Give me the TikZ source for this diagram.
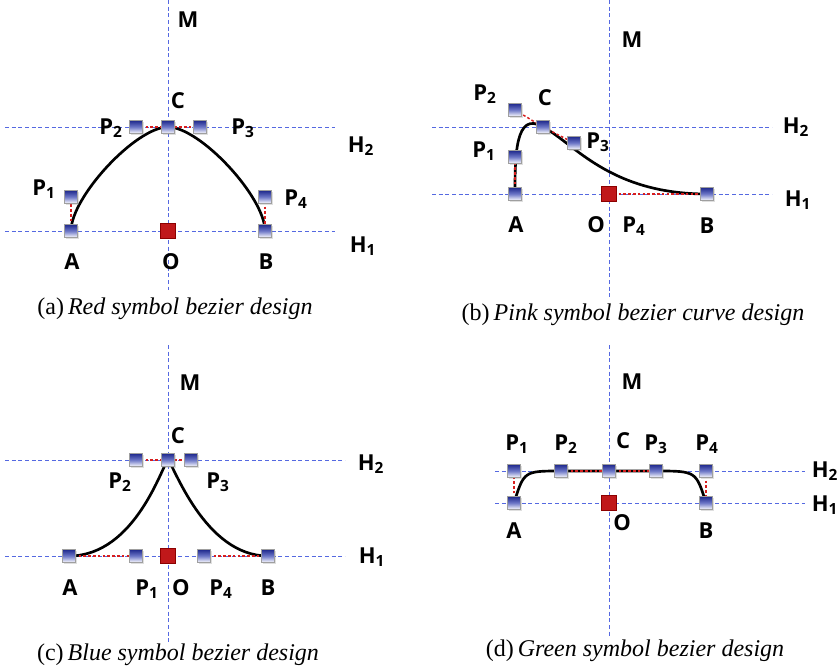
\documentclass[tikz,border=0pt]{standalone}
\usepackage{fontspec}
\setmainfont{Liberation Serif}
\newfontfamily\lblfont{Open Sans}
\usetikzlibrary{backgrounds,shadows}
\definecolor{guide}{RGB}{85,105,225}
\definecolor{sqtop}{RGB}{30,40,140}
\definecolor{sqmid}{RGB}{110,120,200}
\definecolor{redsq}{RGB}{192,24,26}
\definecolor{reddash}{RGB}{215,30,30}
\tikzset{
  guideline/.style={draw=guide, line width=0.6pt, dash pattern=on 3pt off 2pt},
  handle/.style={draw=reddash, line width=1.1pt, dash pattern=on 2pt off 1.6pt},
  curveline/.style={draw=black, line width=2pt},
  sq/.style={draw=gray!75, line width=0.5pt, top color=sqtop, bottom color=white, middle color=sqmid,
    minimum size=9.8pt, inner sep=0pt, drop shadow={opacity=0.25, shadow xshift=0.8pt, shadow yshift=-0.8pt}},
  osq/.style={draw=red!55!black, line width=0.4pt, fill=redsq, minimum size=11pt, inner sep=0pt},
  lbl/.style={font=\lblfont\bfseries\fontsize{16.5}{18}\selectfont, inner sep=0pt},
  captxt/.style={font=\fontsize{18}{20}\selectfont, inner sep=0pt}
}
\newcommand{\sbs}[1]{\textsubscript{#1}}
\begin{document}
\begin{tikzpicture}[x=0.75pt, y=-0.75pt]
\useasboundingbox (0,0) rectangle (838,670);

% ===================== (a) =====================
\node[sq]  (aA)  at (71,231) {};
\node[sq]  (aP1) at (71,197) {};
\node[sq]  (aP2) at (136,127) {};
\node[sq]  (aC)  at (168,127) {};
\node[sq]  (aP3) at (200,127) {};
\node[sq]  (aP4) at (265,197) {};
\node[sq]  (aB)  at (265,231) {};
\node[osq] (aO)  at (168,231) {};
\coordinate (aV1) at (168,0);   \coordinate (aV2) at (168,290);
\coordinate (aH2l) at (5,127);  \coordinate (aH2r) at (335,127);
\coordinate (aH1l) at (5,231);  \coordinate (aH1r) at (335,231);
\begin{scope}[on background layer]
  \draw[guideline] (aV1) -- (aV2);
  \draw[guideline] (aH2l) -- (aH2r);
  \draw[guideline] (aH1l) -- (aH1r);
  \draw[curveline] (aA.center) .. controls (aP1.center) and (aP2.center) .. (aC.center)
                   .. controls (aP3.center) and (aP4.center) .. (aB.center);
  \draw[handle] (aA.center) -- (aP1.center);
  \draw[handle] (aP2.center) -- (aC.center) -- (aP3.center);
  \draw[handle] (aP4.center) -- (aB.center);
\end{scope}
\node[lbl] (aLM)  at (188,20)  {M};
\node[lbl] (aLC)  at (178,101) {C};
\node[lbl] (aLP2) at (111,128) {P\sbs{2}};
\node[lbl] (aLP3) at (243,128) {P\sbs{3}};
\node[lbl] (aLH2) at (361,146) {H\sbs{2}};
\node[lbl] (aLP1) at (44,189)  {P\sbs{1}};
\node[lbl] (aLP4) at (296,199) {P\sbs{4}};
\node[lbl] (aLH1) at (363,246) {H\sbs{1}};
\node[lbl] (aLA)  at (72,262)  {A};
\node[lbl] (aLO)  at (171,262) {O};
\node[lbl] (aLB)  at (266,262) {B};
\node[captxt] (aCap) at (175,309) {(a)\,\textit{Red symbol bezier design}};

% ===================== (b) =====================
\node[sq]  (bA)  at (515,194) {};
\node[sq]  (bP1) at (515,157) {};
\node[sq]  (bP2) at (515,110) {};
\node[sq]  (bC)  at (543,127) {};
\node[sq]  (bP3) at (574,143) {};
\node[osq] (bO)  at (609,194) {};
\node[sq]  (bB)  at (707,194) {};
\coordinate (bV1) at (609,0);   \coordinate (bV2) at (609,298);
\coordinate (bH2l) at (432,127); \coordinate (bH2r) at (772,127);
\coordinate (bH1l) at (432,194); \coordinate (bH1r) at (772,194);
\begin{scope}[on background layer]
  \draw[guideline] (bV1) -- (bV2);
  \draw[guideline] (bH2l) -- (bH2r);
  \draw[guideline] (bH1l) -- (bH1r);
  \draw[curveline] (bA.center) .. controls (bP1.center) and (bP2.center) .. (bC.center)
                   .. controls (bP3.center) and (bO.center) .. (bB.center);
  \draw[handle] (bA.center) -- (bP1.center);
  \draw[handle] (bP2.center) -- (bC.center) -- (bP3.center);
  \draw[handle] (bO.center) -- (bB.center);
\end{scope}
\node[lbl] (bLM)  at (632,40)  {M};
\node[lbl] (bLP2) at (485,94)  {P\sbs{2}};
\node[lbl] (bLC)  at (545,98)  {C};
\node[lbl] (bLP1) at (484,151) {P\sbs{1}};
\node[lbl] (bLP3) at (598,142) {P\sbs{3}};
\node[lbl] (bLH2) at (796,127) {H\sbs{2}};
\node[lbl] (bLH1) at (798,200) {H\sbs{1}};
\node[lbl] (bLA)  at (516,225) {A};
\node[lbl] (bLO)  at (596,225) {O};
\node[lbl] (bLP4) at (634,226) {P\sbs{4}};
\node[lbl] (bLB)  at (707,226) {B};
\node[captxt] (bCap) at (633,315) {(b)\,\textit{Pink symbol bezier curve design}};

% ===================== (c) =====================
\node[sq]  (cP2) at (136,460) {};
\node[sq]  (cC)  at (168,460) {};
\node[sq]  (cP3) at (191,460) {};
\node[sq]  (cA)  at (69,556) {};
\node[sq]  (cP1) at (136,556) {};
\node[osq] (cO)  at (168,556) {};
\node[sq]  (cP4) at (204,556) {};
\node[sq]  (cB)  at (268,556) {};
\coordinate (cV1) at (168,345);  \coordinate (cV2) at (168,642);
\coordinate (cH2l) at (5,460);  \coordinate (cH2r) at (345,460);
\coordinate (cH1l) at (5,556);  \coordinate (cH1r) at (345,556);
\coordinate (cK1) at (163,463); \coordinate (cK2) at (173,463);
\begin{scope}[on background layer]
  \draw[guideline] (cV1) -- (cV2);
  \draw[guideline] (cH2l) -- (cH2r);
  \draw[guideline] (cH1l) -- (cH1r);
  \draw[curveline] (cA.center) .. controls (cP1.center) and (cK1) .. (cC.center)
                   .. controls (cK2) and (cP4.center) .. (cB.center);
  \draw[handle] (cA.center) -- (cP1.center);
  \draw[handle] (cP2.center) -- (cC.center) -- (cP3.center);
  \draw[handle] (cP4.center) -- (cB.center);
\end{scope}
\node[lbl] (cLM)  at (190,383) {M};
\node[lbl] (cLC)  at (178,436) {C};
\node[lbl] (cLP2) at (120,482) {P\sbs{2}};
\node[lbl] (cLP3) at (218,482) {P\sbs{3}};
\node[lbl] (cLH2) at (371,464) {H\sbs{2}};
\node[lbl] (cLH1) at (372,557) {H\sbs{1}};
\node[lbl] (cLA)  at (70,588)  {A};
\node[lbl] (cLP1) at (147,589) {P\sbs{1}};
\node[lbl] (cLO)  at (181,588) {O};
\node[lbl] (cLP4) at (221,589) {P\sbs{4}};
\node[lbl] (cLB)  at (268,588) {B};
\node[captxt] (cCap) at (178,655) {(c)\,\textit{Blue symbol bezier design}};

% ===================== (d) =====================
\node[sq]  (dP1) at (514,471) {};
\node[sq]  (dP2) at (561,471) {};
\node[sq]  (dC)  at (609,471) {};
\node[sq]  (dP3) at (656,471) {};
\node[sq]  (dP4) at (706,471) {};
\node[sq]  (dA)  at (514,503) {};
\node[osq] (dO)  at (609,503) {};
\node[sq]  (dB)  at (706,503) {};
\coordinate (dV1) at (609,345);  \coordinate (dV2) at (609,636);
\coordinate (dH2l) at (495,471); \coordinate (dH2r) at (805,471);
\coordinate (dH1l) at (495,503); \coordinate (dH1r) at (805,503);
\coordinate (dK1) at (524,471); \coordinate (dK2) at (696,471);
\begin{scope}[on background layer]
  \draw[guideline] (dV1) -- (dV2);
  \draw[guideline] (dH2l) -- (dH2r);
  \draw[guideline] (dH1l) -- (dH1r);
  \draw[curveline] (dA.center) .. controls (dK1) .. (dP2.center)
                   -- (dP3.center) .. controls (dK2) .. (dB.center);
  \draw[handle] (dA.center) -- (dP1.center);
  \draw[handle] (dP2.center) -- (dC.center) -- (dP3.center);
  \draw[handle] (dP4.center) -- (dB.center);
\end{scope}
\node[lbl] (dLM)  at (632,382) {M};
\node[lbl] (dLP1) at (517,444) {P\sbs{1}};
\node[lbl] (dLP2) at (566,444) {P\sbs{2}};
\node[lbl] (dLC)  at (623,441) {C};
\node[lbl] (dLP3) at (656,444) {P\sbs{3}};
\node[lbl] (dLP4) at (707,444) {P\sbs{4}};
\node[lbl] (dLH2) at (825,471) {H\sbs{2}};
\node[lbl] (dLH1) at (825,505) {H\sbs{1}};
\node[lbl] (dLA)  at (514,531) {A};
\node[lbl] (dLO)  at (622,523) {O};
\node[lbl] (dLB)  at (706,531) {B};
\node[captxt] (dCap) at (635,651) {(d)\,\textit{Green symbol bezier design}};
\end{tikzpicture}
\end{document}
